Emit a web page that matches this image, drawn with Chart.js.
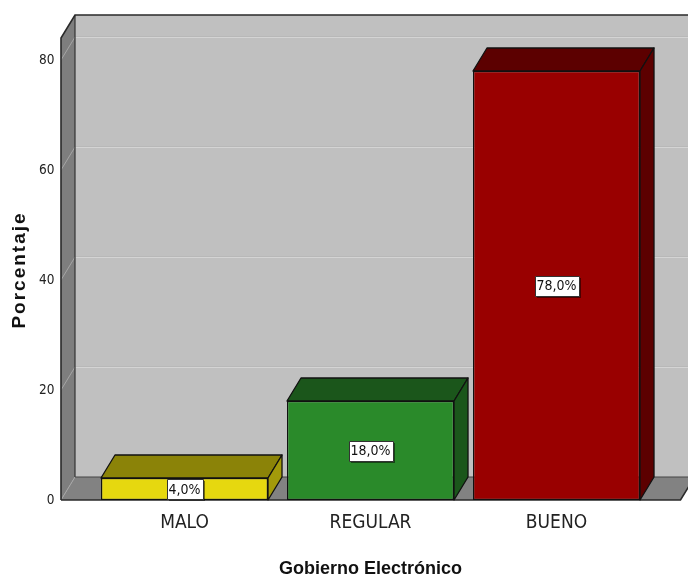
<!DOCTYPE html>
<html><head><meta charset="utf-8">
<script src="https://cdn.jsdelivr.net/npm/chart.js@4.4.1/dist/chart.umd.min.js"></script>
<style>html,body{margin:0;padding:0;background:#fff;overflow:hidden}#wrap{width:688px;height:580px;position:relative}</style>
</head><body><div id="wrap"><canvas id="c" width="688" height="580"></canvas></div>
<script>
const categories = ['MALO', 'REGULAR', 'BUENO'];
const percentages = [4.0, 18.0, 78.0];
const yTickValues = [0, 20, 40, 60, 80];
const yAxisMax = 84;
const frontColors = ['#e6d80f', '#2a8a2a', '#990000'];
const topColors = ['#8b8308', '#1b561b', '#5c0000'];
const sideColors = ['#a39a0a', '#1b561b', '#5c0000'];
const xTitle = 'Gobierno Electrónico';
const yTitle = 'Porcentaje';

const DX = 14, DY = -23;
const WALL_LEFT_EXT = 30.5, WALL_RIGHT_EXT = 31;
const NARROW = "'Liberation Sans Narrow','Arial Narrow','DejaVu Sans Condensed',sans-serif";

function poly(ctx, pts, fill, stroke, lw) {
  ctx.beginPath();
  ctx.moveTo(pts[0][0], pts[0][1]);
  for (let i = 1; i < pts.length; i++) ctx.lineTo(pts[i][0], pts[i][1]);
  ctx.closePath();
  if (fill) { ctx.fillStyle = fill; ctx.fill(); }
  if (stroke) { ctx.strokeStyle = stroke; ctx.lineWidth = lw || 1; ctx.stroke(); }
}
function line(ctx, x1, y1, x2, y2, c, lw) {
  ctx.beginPath(); ctx.moveTo(x1, y1); ctx.lineTo(x2, y2);
  ctx.strokeStyle = c; ctx.lineWidth = lw || 1; ctx.stroke();
}

const box3d = {
  id: 'box3d',
  beforeDatasetsDraw(chart) {
    const { ctx, chartArea: a, scales: { y } } = chart;
    const L = a.left - WALL_LEFT_EXT, R = a.right + WALL_RIGHT_EXT;
    const T = y.getPixelForValue(yAxisMax), B = y.getPixelForValue(0);
    ctx.save();
    ctx.fillStyle = '#c0c0c0';
    ctx.fillRect(L + DX, T + DY, R - L + 20, B - T);
    y.ticks.forEach(t => {
      if (t.value === 0) return;
      const py = Math.round(y.getPixelForValue(t.value)) + 0.5;
      line(ctx, L + DX, py + DY, R + DX + 20, py + DY, '#d4d4d4', 1);
      line(ctx, L + DX, py + DY - 1, R + DX + 20, py + DY - 1, '#b8b8b8', 1);
    });
    poly(ctx, [[L, T], [L + DX, T + DY], [L + DX, B + DY], [L, B]], '#7e7e7e');
    y.ticks.forEach(t => {
      if (t.value === 0) return;
      const py = y.getPixelForValue(t.value);
      line(ctx, L, py, L + DX, py + DY, '#a6a6a6', 1);
    });
    poly(ctx, [[L, B], [L + DX, B + DY], [R + DX, B + DY], [R, B]], '#828282');
    line(ctx, L, B, L + DX, B + DY, '#a6a6a6', 1);
    line(ctx, L + DX, T + DY, L + DX, B + DY, '#333', 1.2);
    line(ctx, L + DX, B + DY, R + DX + 20, B + DY, '#444', 1);
    ctx.beginPath();
    ctx.moveTo(L, B); ctx.lineTo(L, T); ctx.lineTo(L + DX, T + DY); ctx.lineTo(R + DX + 20, T + DY);
    ctx.strokeStyle = '#2a2a2a'; ctx.lineWidth = 1.6; ctx.stroke();
    ctx.beginPath();
    ctx.moveTo(L, B); ctx.lineTo(R, B); ctx.lineTo(R + DX, B + DY);
    ctx.strokeStyle = '#2a2a2a'; ctx.lineWidth = 1.6; ctx.stroke();
    ctx.restore();
  },
  afterDatasetsDraw(chart) {
    const { ctx } = chart;
    const meta = chart.getDatasetMeta(0);
    ctx.save();
    meta.data.forEach((bar, i) => {
      const { x, y, base, width } = bar.getProps(['x', 'y', 'base', 'width'], true);
      const l = x - width / 2, r = x + width / 2;
      ctx.lineJoin = 'round';
      poly(ctx, [[l, y], [l + DX, y + DY], [r + DX, y + DY], [r, y]], topColors[i], '#111', 1.3);
      poly(ctx, [[r, y], [r + DX, y + DY], [r + DX, base + DY], [r, base]], sideColors[i], '#111', 1.3);
      const txt = percentages[i].toFixed(1).replace('.', ',') + '%';
      ctx.font = '14px ' + NARROW;
      const tw = ctx.measureText(txt).width;
      const bw = Math.round(tw + 4), bh = 20;
      const cx = x, cy = (y + base) / 2;
      const bx = Math.round(cx - bw / 2) + 0.5, by = Math.round(cy - bh / 2) + 0.5;
      ctx.fillStyle = 'rgba(0,0,0,0.5)';
      ctx.fillRect(bx + 1.5, by + 1.5, bw, bh);
      ctx.fillStyle = '#ffffff';
      ctx.fillRect(bx, by, bw, bh);
      ctx.strokeStyle = '#333'; ctx.lineWidth = 1;
      ctx.strokeRect(bx, by, bw, bh);
      ctx.fillStyle = '#111';
      ctx.textAlign = 'center'; ctx.textBaseline = 'middle';
      ctx.fillText(txt, cx, cy + 1);
    });
    ctx.restore();
  },
  afterDraw(chart) {
    const { ctx } = chart;
    ctx.save();
    ctx.translate(25, 270);
    ctx.rotate(-Math.PI / 2);
    ctx.font = "bold 19px 'Liberation Sans', Arial, sans-serif";
    if ('letterSpacing' in ctx) ctx.letterSpacing = '2px';
    ctx.fillStyle = '#111';
    ctx.textAlign = 'center';
    ctx.textBaseline = 'alphabetic';
    ctx.fillText(yTitle, 0, 0);
    ctx.restore();
  }
};

new Chart(document.getElementById('c'), {
  type: 'bar',
  data: {
    labels: categories,
    datasets: [{
      data: percentages,
      backgroundColor: frontColors,
      borderColor: '#111',
      borderWidth: 1.3,
      borderSkipped: false,
      categoryPercentage: 1,
      barPercentage: 0.898
    }]
  },
  options: {
    responsive: false,
    animation: false,
    events: [],
    layout: { padding: { top: 38, right: 38.5, bottom: 0, left: 0 } },
    plugins: { legend: { display: false }, tooltip: { enabled: false } },
    scales: {
      x: {
        type: 'category',
        offset: true,
        grid: { display: false },
        border: { display: false },
        ticks: { font: { family: NARROW, size: 19 }, color: '#222', padding: 4, maxRotation: 0 },
        title: { display: true, text: xTitle, font: { family: "'Liberation Sans', Arial, sans-serif", size: 18, weight: 'bold' }, color: '#111', padding: { top: 0, bottom: 0 } },
        afterFit(s) { s.height = 80; s.paddingLeft = 0; s.paddingRight = 0; }
      },
      y: {
        min: 0,
        max: yAxisMax,
        afterBuildTicks(s) { s.ticks = yTickValues.map(v => ({ value: v })); },
        grid: { display: false, drawTicks: false },
        border: { display: false },
        ticks: { font: { family: NARROW, size: 13.5 }, color: '#222', padding: 37 },
        afterFit(s) { s.width = 91.5; s.paddingTop = 0; s.paddingBottom = 0; }
      }
    }
  },
  plugins: [box3d]
});
</script></body></html>
